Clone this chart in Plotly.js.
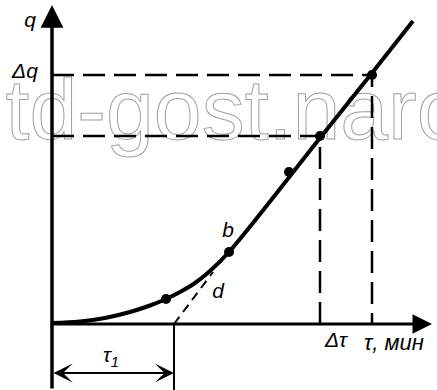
<!DOCTYPE html>
<html>
<head>
<meta charset="utf-8">
<script src="https://cdn.plot.ly/plotly-3.0.1.min.js"></script>
<style>
  html, body { margin: 0; padding: 0; background: #fff; }
  #plot { width: 437px; height: 390px; }
  /* hollow grey letters for the watermark */
  #plot .scatterlayer .trace:first-child text {
    stroke: #a0a0a0 !important;
    stroke-width: 1px !important;
  }
</style>
</head>
<body>
<div id="plot"></div>
<script>
// values, origin at the axes crossing
var curveTau = [0, 2.8, 5.3, 7.8, 9.8, 11.4, 12.8, 14.3, 15.8, 17.7, 26.8, 32.0, 36.1];
var curveQ   = [0.1, 0.25, 0.6, 1.2, 1.85, 2.5, 3.2, 4.1, 5.3, 7.2, 18.6, 25.1, 30.3];

var pointTau = [11.4, 17.7, 23.7, 26.8, 32.0];
var pointQ   = [2.5, 7.2, 15.2, 18.8, 24.9];

// dashed construction lines: delta tau / delta q corners
var guideTau = [26.8, 32.0];
var guideQ   = [18.8, 24.9];

// dashed extension of the straight part down to the tau axis
var tangentTau = [12.2, 16.1];
var tangentQ   = [0, 5.2];

var tau1 = 12.2;

var labelText = ['q', 'Δq', 'b', 'd', 'Δτ', 'τ<sub>1</sub>'];
var labelTau  = [-2.2, -2.7, 17.6, 16.6, 28.4, 5.9];
var labelQ    = [30.2, 25.1, 9.2, 3.1, -1.8, -3.3];

var xRange = [-5.2, 38.5];
var yRange = [-6.6, 32.4];

var labelFont = { family: 'Liberation Sans', size: 21, color: '#000', style: 'italic' };

var traces = [];

// watermark goes first so the drawing lies over it
traces.push({
  x: [20.7], y: [20.7],
  mode: 'text',
  text: ['td-gost.narod'],
  textposition: 'middle center',
  textfont: { family: 'Liberation Sans', size: 86, color: '#fff' },
  cliponaxis: false,
  hoverinfo: 'skip'
});

guideTau.forEach(function (t, i) {
  traces.push({
    x: [0, t, t], y: [guideQ[i], guideQ[i], 0],
    mode: 'lines',
    line: { color: '#000', width: 2.5, dash: '22px,9px' },
    hoverinfo: 'skip'
  });
});

traces.push({
  x: tangentTau, y: tangentQ,
  mode: 'lines',
  line: { color: '#000', width: 2, dash: '9px,6px' },
  hoverinfo: 'skip'
});

traces.push({
  x: curveTau, y: curveQ,
  mode: 'lines',
  line: { color: '#000', width: 4, shape: 'spline', smoothing: 1 },
  hoverinfo: 'skip'
});

traces.push({
  x: pointTau, y: pointQ,
  mode: 'markers',
  marker: { color: '#000', size: 10 },
  hoverinfo: 'skip'
});

// tau1 extension line below the axis
traces.push({
  x: [tau1, tau1], y: [0, yRange[0]],
  mode: 'lines',
  line: { color: '#000', width: 2 },
  hoverinfo: 'skip'
});

traces.push({
  x: labelTau, y: labelQ,
  mode: 'text',
  text: labelText,
  textposition: 'middle center',
  textfont: labelFont,
  cliponaxis: false,
  hoverinfo: 'skip'
});

function arrow(x, y, ax, ay, width, extra) {
  var a = {
    x: x, y: y, ax: ax, ay: ay,
    xref: 'x', yref: 'y', axref: 'x', ayref: 'y',
    text: '', showarrow: true,
    arrowhead: 2, arrowsize: 1.4, arrowwidth: width, arrowcolor: '#000'
  };
  return Object.assign(a, extra || {});
}

var layout = {
  width: 437,
  height: 390,
  margin: { l: 0, r: 0, t: 0, b: 0 },
  paper_bgcolor: '#fff',
  plot_bgcolor: '#fff',
  showlegend: false,
  xaxis: { range: xRange, visible: false, fixedrange: true },
  yaxis: { range: yRange, visible: false, fixedrange: true },
  annotations: [
    arrow(0, 31.9, 0, yRange[0], 3.5, { arrowsize: 1.3 }),
    arrow(38.0, 0, 0, 0, 3, { arrowsize: 1.3 }),
    arrow(tau1, -4.9, 0, -4.9, 2, { arrowside: 'end+start', arrowhead: 3, arrowsize: 1.6 }),
    {
      x: 31.0, y: -1.8, xref: 'x', yref: 'y',
      text: 'τ, мин', showarrow: false, xanchor: 'left',
      font: { family: 'Liberation Sans', size: 22, color: '#000', style: 'italic' }
    }
  ]
};

Plotly.newPlot('plot', traces, layout, { staticPlot: true, displayModeBar: false });
</script>
</body>
</html>
